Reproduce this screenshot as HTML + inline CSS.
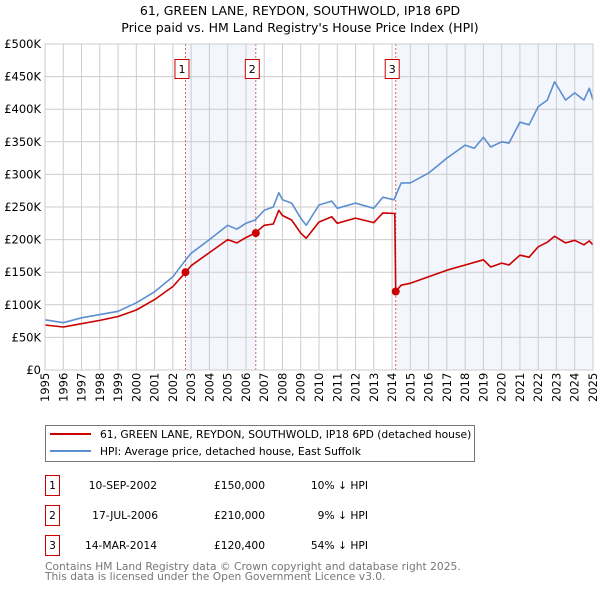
<!DOCTYPE html>
<html><head><meta charset="utf-8"><style>
body{margin:0;background:#fff;}
svg{display:block;font-family:"DejaVu Sans","Liberation Sans",sans-serif;}
</style></head><body>
<svg id="c" width="600" height="590" viewBox="0 0 600 590">
<text x="300" y="15" text-anchor="middle" font-size="12.5">61, GREEN LANE, REYDON, SOUTHWOLD, IP18 6PD</text>
<text x="300" y="32" text-anchor="middle" font-size="12.5">Price paid vs. HM Land Registry's House Price Index (HPI)</text>
<g id="plot"></g>
<g>
<rect x="45.5" y="425.5" width="429" height="36" fill="#fff" stroke="#777"/>
<line x1="50" y1="434" x2="91" y2="434" stroke="#cc0000" stroke-width="2"/>
<text x="100" y="438" font-size="10.7">61, GREEN LANE, REYDON, SOUTHWOLD, IP18 6PD (detached house)</text>
<line x1="50" y1="451" x2="91" y2="451" stroke="#5b8fd0" stroke-width="2"/>
<text x="100" y="455" font-size="10.7">HPI: Average price, detached house, East Suffolk</text>
</g>
<g font-size="10.7">
<rect x="45.5" y="475.5" width="14" height="20" fill="#fff" stroke="#cc0000"/><text x="52.5" y="489" text-anchor="middle">1</text>
<text x="157" y="489" text-anchor="end">10-SEP-2002</text><text x="265" y="489" text-anchor="end">£150,000</text><text x="368" y="489" text-anchor="end">10% ↓ HPI</text>
<rect x="45.5" y="505.5" width="14" height="20" fill="#fff" stroke="#cc0000"/><text x="52.5" y="519" text-anchor="middle">2</text>
<text x="158" y="519" text-anchor="end">17-JUL-2006</text><text x="265" y="519" text-anchor="end">£210,000</text><text x="368" y="519" text-anchor="end">9% ↓ HPI</text>
<rect x="45.5" y="535.5" width="14" height="20" fill="#fff" stroke="#cc0000"/><text x="52.5" y="549" text-anchor="middle">3</text>
<text x="157" y="549" text-anchor="end">14-MAR-2014</text><text x="265" y="549" text-anchor="end">£120,400</text><text x="368" y="549" text-anchor="end">54% ↓ HPI</text>
</g>
<text x="45" y="570" font-size="10.7" fill="#777">Contains HM Land Registry data © Crown copyright and database right 2025.</text>
<text x="45" y="580" font-size="10.7" fill="#777">This data is licensed under the Open Government Licence v3.0.</text>
</svg>
<script>
const yTicks=[0,50,100,150,200,250,300,350,400,450,500];
const yTickLabels=["£0","£50K","£100K","£150K","£200K","£250K","£300K","£350K","£400K","£450K","£500K"];
const xYears=[1995,1996,1997,1998,1999,2000,2001,2002,2003,2004,2005,2006,2007,2008,2009,2010,2011,2012,2013,2014,2015,2016,2017,2018,2019,2020,2021,2022,2023,2024,2025];
const hpiT=[1995,1996,1997,1998,1999,2000,2001,2002,2002.7,2003,2004,2005,2005.5,2006,2006.5,2007,2007.5,2007.8,2008,2008.5,2009,2009.3,2010,2010.7,2011,2012,2013,2013.5,2014.1,2014.5,2015,2016,2017,2018,2018.5,2019,2019.4,2020,2020.4,2021,2021.5,2022,2022.5,2022.9,2023.5,2024,2024.5,2024.8,2025];
const hpiV=[77,72.5,80,85,90,103,120,143,169,179,200,222,216,225,230,245,250,272,261,256,233,222,253,259,248,256,248,265,261,287,287,302,325,345,340,357,342,350,348,380,376,404,414,442,414,425,414,432,414];
const priceT=[1995,1996,1997,1998,1999,2000,2001,2002,2002.7,2003,2004,2005,2005.5,2006,2006.5,2007,2007.5,2007.8,2008,2008.5,2009,2009.3,2010,2010.7,2011,2012,2013,2013.5,2014.15,2014.2,2014.5,2015,2016,2017,2018,2019,2019.4,2020,2020.4,2021,2021.5,2022,2022.5,2022.9,2023.5,2024,2024.5,2024.8,2025];
const priceV=[69,66,71,76,82,92,108,128,150,160,180,200,195,203,210,222,224,245,237,230,210,202,227,235,225,233,226,241,240,120.4,130,133,143,153,161,169,158,164,161,176,173,189,196,205,195,199,192,198,192];
const saleT=[2002.69,2006.54,2014.2];
const saleV=[150,210,120.4];
const saleLabels=["1","2","3"];
const L=45,R=593,T=44,B=370;
const X=t=>L+(t-1995)/(2025-1995)*(R-L);
const Y=v=>B-v/500*(B-T);
const NS="http://www.w3.org/2000/svg";
const g=document.getElementById('plot');
function mk(tag,a,p){const e=document.createElementNS(NS,tag);for(const k in a)e.setAttribute(k,a[k]);(p||g).appendChild(e);return e;}
let s1=mk('rect',{x:X(saleT[0]),y:T,width:X(saleT[1])-X(saleT[0]),height:B-T,fill:'#f3f6fd'});


let s2=mk('rect',{x:X(saleT[2]),y:T,width:R-X(saleT[2]),height:B-T,fill:'#f3f6fd'});


xYears.forEach(y=>{
 let l=mk('line',{x1:X(y),x2:X(y),y1:T,y2:B,stroke:'#ccc','stroke-width':1});
 
 
 let t=mk('text',{transform:`translate(${X(y)+4},${B+32}) rotate(-90)`,'font-size':11.5});
 
 
 t.textContent=y;
});
yTicks.forEach((v,i)=>{
 let l=mk('line',{x1:L,x2:R,y1:Y(v),y2:Y(v),stroke:'#ccc','stroke-width':1});
 
 
 let t=mk('text',{x:L-4,y:Y(v)+4,'text-anchor':'end','font-size':11.5});
 
 
 t.textContent=yTickLabels[i];
});
saleT.forEach((t,i)=>{
 let l=mk('line',{x1:X(t),x2:X(t),y1:T,y2:B,stroke:'#e06060','stroke-width':1,'stroke-dasharray':'2,2'});
 
 
 let r=mk('rect',{x:X(t)-10.5,y:59.5,width:14,height:19,fill:'#fff',stroke:'#cc0000'});
 
 
 let tx=mk('text',{x:X(t)-3.5,y:73,'text-anchor':'middle','font-size':11});
 
 
 tx.textContent=saleLabels[i];
});
function path(ts,vs,col,name){
 let d=ts.map((t,i)=>(i?'L':'M')+X(t).toFixed(1)+','+Y(vs[i]).toFixed(1)).join('');
 let p=mk('path',{d:d,fill:'none',stroke:col,'stroke-width':1.6,'stroke-linejoin':'round'});
 
 
}
path(hpiT,hpiV,'#5b8fd0','hpi-line');
path(priceT,priceV,'#cc0000','price-line');
saleT.forEach((t,i)=>{
 let c=mk('circle',{cx:X(t),cy:Y(saleV[i]),r:4,fill:'#cc0000'});
 
 
});
let ax=mk('rect',{x:L,y:T,width:R-L,height:B-T,fill:'none',stroke:'#ccc'});


</script>
</body></html>
